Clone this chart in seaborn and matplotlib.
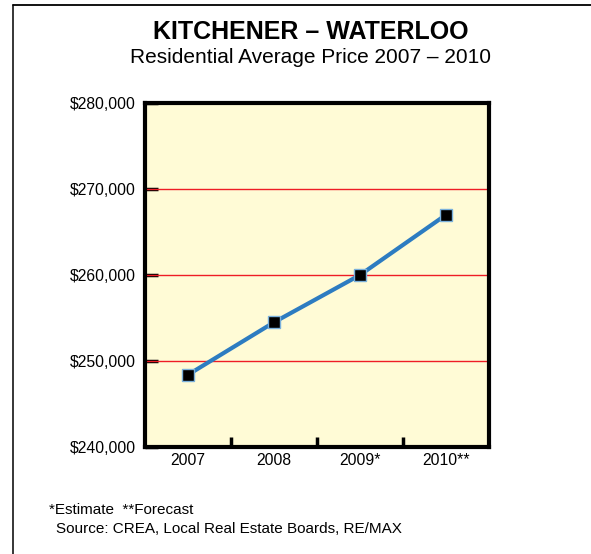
import pandas as pd
import matplotlib.pyplot as plt
import seaborn as sns
from matplotlib.lines import Line2D
from matplotlib.ticker import FuncFormatter

# Data
years = ["2007", "2008", "2009*", "2010**"]
prices = [248400, 254500, 260000, 267000]
y_ticks = [240000, 250000, 260000, 270000, 280000]

TITLE = "KITCHENER \u2013 WATERLOO"
SUBTITLE = "Residential Average Price 2007 \u2013 2010"
NOTE_1 = "*Estimate  **Forecast"
NOTE_2 = "Source: CREA, Local Real Estate Boards, RE/MAX"

LINE_BLUE = "#2d7cc1"
GRID_RED = "#ee1c25"
PANEL = "#fffbd6"

sns.set_style("white")
plt.rcParams["font.family"] = ["Liberation Sans", "DejaVu Sans"]
plt.rcParams["text.color"] = "black"
plt.rcParams["xtick.labelcolor"] = "black"
plt.rcParams["ytick.labelcolor"] = "black"

df = pd.DataFrame({"Year": years, "Price": prices})

W, H = 591, 554
fig = plt.figure(figsize=(W / 100, H / 100), dpi=100)
ax = fig.add_axes([145 / W, 1 - 447 / H, (489 - 145) / W, (447 - 103) / H])
ax.set_facecolor(PANEL)

# red reference lines at the inner y ticks
for v in y_ticks[1:-1]:
    ax.axhline(v, color=GRID_RED, linewidth=1, zorder=1)

sns.lineplot(
    data=df, x="Year", y="Price", sort=False, ax=ax, zorder=3,
    color=LINE_BLUE, linewidth=3, marker="s", markersize=8,
    markerfacecolor="black", markeredgecolor="#7ab0dc", markeredgewidth=1,
)

# --- axes ---
ax.set_xlim(-0.5, len(years) - 0.5)
ax.set_ylim(y_ticks[0], y_ticks[-1])
ax.set_xlabel("")
ax.set_ylabel("")
ax.grid(False)

ax.set_yticks(y_ticks)
ax.yaxis.set_major_formatter(FuncFormatter(lambda v, _: f"${v:,.0f}"))
ax.tick_params(axis="y", direction="in", length=9.4, width=2.5, color="black",
               pad=6.5, labelsize=11.3, left=True)

# separators between years are the major ticks, labels sit on minor ticks
ax.set_xticks([i + 0.5 for i in range(len(years) - 1)])
ax.set_xticklabels([])
ax.set_xticks(range(len(years)), minor=True)
ax.set_xticklabels(years, minor=True)
ax.tick_params(axis="x", which="major", direction="in", length=7.2, width=2.5,
               color="black", bottom=True)
ax.tick_params(axis="x", which="minor", length=0, pad=4.3, labelsize=11.3)

for side in ["left", "right", "top", "bottom"]:
    ax.spines[side].set_visible(True)
    ax.spines[side].set_color("black")
    ax.spines[side].set_linewidth(3)

# --- titles and notes ---
fig.text(310.5 / W, 1 - 39 / H, TITLE, ha="center", va="baseline",
         fontsize=18, fontweight="bold")
fig.text(310.5 / W, 1 - 63 / H, SUBTITLE, ha="center", va="baseline", fontsize=15)
fig.text(49 / W, 1 - 514 / H, NOTE_1, ha="left", va="baseline", fontsize=11)
fig.text(56.5 / W, 1 - 533 / H, NOTE_2, ha="left", va="baseline", fontsize=11)

# frame around the figure (top and left only)
fig.add_artist(Line2D([12.5 / W, 1], [1 - 4.8 / H] * 2, color="black", linewidth=1.3,
                      transform=fig.transFigure))
fig.add_artist(Line2D([12.5 / W] * 2, [0, 1 - 4.8 / H], color="black", linewidth=1.1,
                      transform=fig.transFigure))

fig.savefig("out.png", dpi=100)
plt.close(fig)
